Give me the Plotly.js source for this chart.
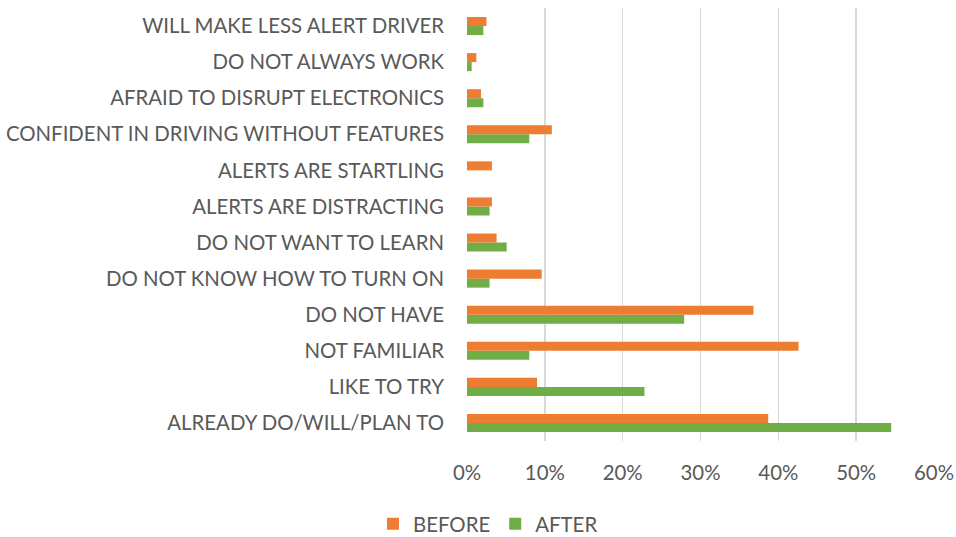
<!DOCTYPE html>
<html>
<head>
<meta charset="utf-8">
<script src="https://cdn.plot.ly/plotly-3.0.1.min.js"></script>
<style>html,body{margin:0;padding:0;background:#fff;}#chart{width:956px;height:537px;}</style>
</head>
<body>
<div id="chart"></div>
<script>
// categories listed bottom to top
const categories = [
  "ALREADY DO/WILL/PLAN TO",
  "LIKE TO TRY",
  "NOT FAMILIAR",
  "DO NOT HAVE",
  "DO NOT KNOW HOW TO TURN ON",
  "DO NOT WANT TO LEARN",
  "ALERTS ARE DISTRACTING",
  "ALERTS ARE STARTLING",
  "CONFIDENT IN DRIVING WITHOUT FEATURES",
  "AFRAID TO DISRUPT ELECTRONICS",
  "DO NOT ALWAYS WORK",
  "WILL MAKE LESS ALERT DRIVER"
];
const before = [0.387, 0.090, 0.426, 0.368, 0.096, 0.038, 0.032, 0.032, 0.109, 0.018, 0.012, 0.025];
const after  = [0.545, 0.228, 0.080, 0.279, 0.029, 0.051, 0.029, 0.000, 0.080, 0.021, 0.006, 0.021];
const xTicks = [0, 0.1, 0.2, 0.3, 0.4, 0.5, 0.6];
const xTickText = ["0%", "10%", "20%", "30%", "40%", "50%", "60%"];

const font = "Lato, 'Open Sans', sans-serif";
const fs = 20.4;
const data = [
  {type: 'bar', orientation: 'h', name: 'AFTER', y: categories, x: after,
   marker: {color: '#70AD47'}, hoverinfo: 'x+y'},
  {type: 'bar', orientation: 'h', name: 'BEFORE', y: categories, x: before,
   marker: {color: '#ED7D31'}, hoverinfo: 'x+y'}
];
const layout = {
  width: 956, height: 537,
  margin: {l: 467, r: 22, t: 8, b: 96, autoexpand: false},
  barmode: 'group', bargap: 0.5, bargroupgap: 0,
  paper_bgcolor: '#fff', plot_bgcolor: '#fff',
  font: {family: font, size: fs, color: '#595959'},
  xaxis: {range: [0, 0.6], tickvals: xTicks, ticktext: xTickText,
          showgrid: true, gridcolor: '#d9d9d9', gridwidth: 1.5,
          zeroline: false, showline: false, ticks: '', fixedrange: true,
          ticklabelstandoff: 18, automargin: false,
          tickfont: {family: font, size: fs, color: '#595959'}},
  yaxis: {type: 'category', showgrid: false, zeroline: false, showline: false,
          ticks: '', ticklen: 0, automargin: false, ticklabelstandoff: 22,
          tickfont: {family: font, size: fs, color: '#595959'}},
  legend: {orientation: 'h', traceorder: 'reversed', xanchor: 'center',
           xref: 'paper', x: (488 - 467) / (934 - 467),
           y: (441 - 524) / 433, yanchor: 'middle',
           font: {family: font, size: fs, color: '#595959'}},
  showlegend: true
};
Plotly.newPlot('chart', data, layout, {displayModeBar: false, staticPlot: true});
</script>
</body>
</html>
